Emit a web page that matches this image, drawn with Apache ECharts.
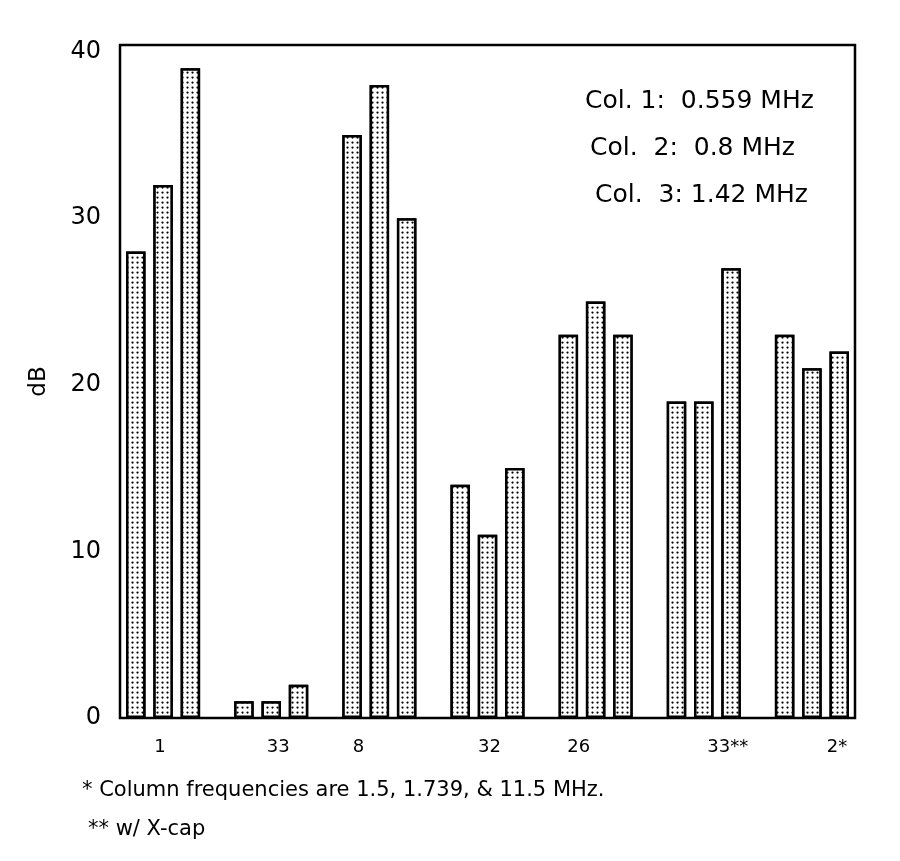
<!DOCTYPE html>
<html><head><meta charset="utf-8">
<script src="https://cdn.jsdelivr.net/npm/echarts@6/dist/echarts.min.js"></script>
<style>html,body{margin:0;padding:0;background:#fff}#c{width:900px;height:861px}</style>
</head><body><div id="c"></div>
<script>
const categories = ['1','33','8','32','26','33**','2*'];
const col1 = [28, 1, 35, 14, 23, 19, 23];
const col2 = [32, 1, 38, 11, 25, 19, 21];
const col3 = [39, 2, 30, 15, 23, 27, 22];
const yTicks = [0, 10, 20, 30, 40];
const labelShift = [-3, 7, -21, 2, -17, 24, 25];
const F = 'DejaVu Sans';

const rich = {};
labelShift.forEach((d, i) => {
  rich['s' + i] = {fontSize: 18, color: '#000', fontFamily: F,
    padding: d >= 0 ? [0, 0, 0, 2 * d] : [0, -2 * d, 0, 0]};
});
const barStyle = {
  color: '#fff', borderColor: '#000', borderWidth: 2.5,
  decal: {symbol: 'circle', symbolSize: 0.45, color: '#000', backgroundColor: '#fff',
    dashArrayX: [5, 0], dashArrayY: [5, 0], rotation: 0}
};
const mk = (name, data) => ({name, type: 'bar', data, barWidth: 19.5, barGap: '40%',
  itemStyle: barStyle, animation: false});

const chart = echarts.init(document.getElementById('c'));
chart.setOption({
  backgroundColor: '#fff',
  grid: {left: 109, right: 34, top: 45, bottom: 143},
  xAxis: {type: 'category', data: categories,
    axisLine: {show: false}, axisTick: {show: false},
    axisLabel: {margin: 20, interval: 0,
      formatter: (v, i) => '{s' + i + '|' + v + '}', rich}},
  yAxis: {type: 'value', min: 0, max: 40.4, interval: 10,
    name: 'dB', nameLocation: 'middle', nameGap: 58, nameRotate: 90,
    nameTextStyle: {fontSize: 23, color: '#000', fontFamily: F},
    splitLine: {show: false},
    axisLine: {show: false}, axisTick: {show: false},
    axisLabel: {fontSize: 24, color: '#000', fontFamily: F, margin: 8,
      formatter: v => yTicks.includes(v) ? String(v) : ''}},
  series: [mk('Col. 1', col1), mk('Col. 2', col2), mk('Col. 3', col3)],
  graphic: [
    {type: 'rect', shape: {x: 120, y: 45, width: 735, height: 673}, z: 10,
      style: {fill: null, stroke: '#000', lineWidth: 2.5}},
    {type: 'text', left: 585, top: 89, style: {text: 'Col. 1:  0.559 MHz', fontSize: 25, fill: '#000', fontFamily: F}},
    {type: 'text', left: 590, top: 136, style: {text: 'Col.  2:  0.8 MHz', fontSize: 25, fill: '#000', fontFamily: F}},
    {type: 'text', left: 595, top: 183, style: {text: 'Col.  3: 1.42 MHz', fontSize: 25, fill: '#000', fontFamily: F}},
    {type: 'text', left: 82, top: 780, style: {text: '* Column frequencies are 1.5, 1.739, & 11.5 MHz.', fontSize: 21, fill: '#000', fontFamily: F}},
    {type: 'text', left: 88, top: 819, style: {text: '** w/ X-cap', fontSize: 21, fill: '#000', fontFamily: F}}
  ]
});
</script></body></html>
